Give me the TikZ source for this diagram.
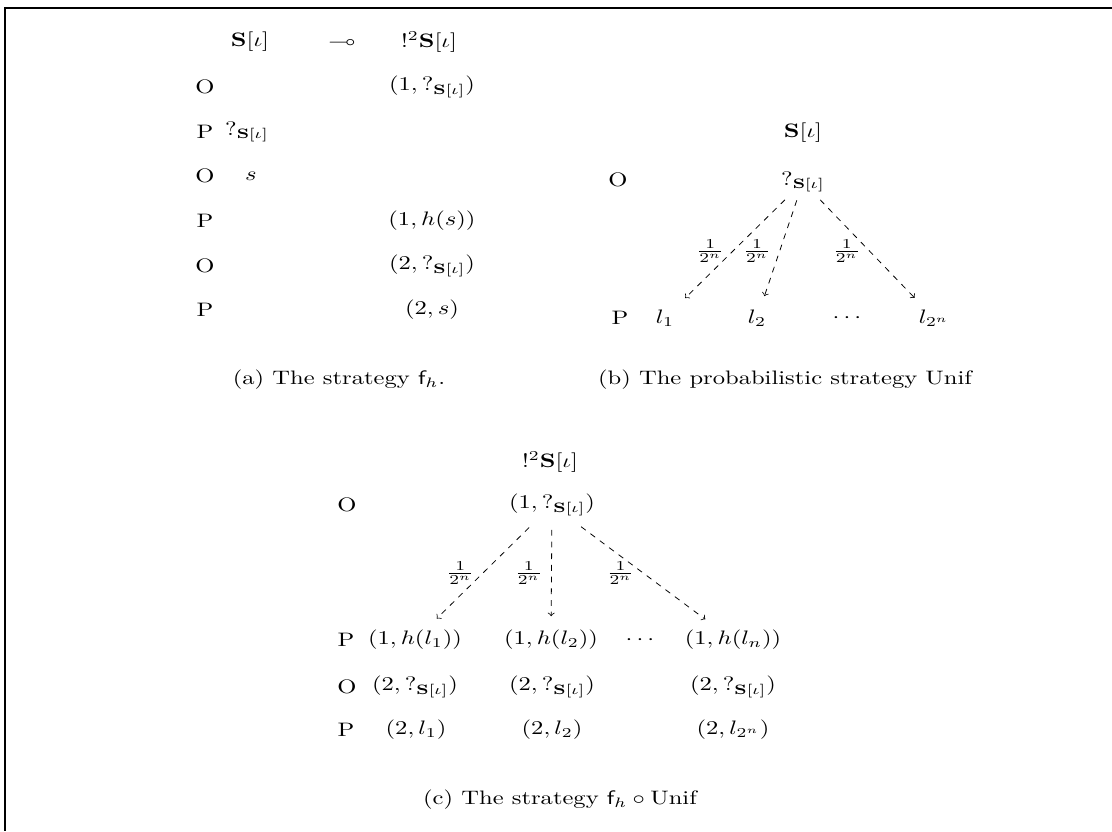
\documentclass[tikz,border=0pt]{standalone}
\usepackage{amsmath,amssymb}
\usepackage{tikz}
\usetikzlibrary{positioning}
\newcommand{\Sig}{\mathbf{S}[\iota]}
\newcommand{\qS}{?_{\mathbf{S}[\iota]}}

\begin{document}
\begin{tikzpicture}[
  x=0.5128pt, y=-0.5128pt,
  every node/.style={xscale=1.26},
  mv/.style={inner sep=3pt},
  pl/.style={inner sep=3pt},
  capt/.style={inner sep=2pt},
  prob/.style={left=3pt, inner sep=1pt},
  arr/.style={->, dashed, shorten >=4pt, shorten <=1pt}
]
\useasboundingbox (0,0) rectangle (1112,831);
\draw[line width=0.8pt] (1112,8) -- (5,8) -- (5,831);

% (a) the strategy f_h
\node[mv] (aL) at (250,42) {$\Sig$};
\node[mv] (aimp) at (342,42) {$\multimap$};
\node[mv] (aR) at (429,42) {$!^2\Sig$};
\node[pl] (ap1) at (205,87) {O};
\node[pl] (ap2) at (205,132) {P};
\node[pl] (ap3) at (205,176) {O};
\node[pl] (ap4) at (205,221) {P};
\node[pl] (ap5) at (205,266) {O};
\node[pl] (ap6) at (205,310) {P};
\node[mv] (am1) at (432,87) {$(1,\qS)$};
\node[mv] (am2) at (247,132) {$\qS$};
\node[mv] (am3) at (251,176) {$s$};
\node[mv] (am4) at (432,221) {$(1,h(s))$};
\node[mv] (am5) at (432,266) {$(2,\qS)$};
\node[mv] (am6) at (432,310) {$(2,s)$};
\node[capt] (capa) at (339,380) {(a) The strategy $\mathsf{f}_h$.};

% (b) the probabilistic strategy Unif
\node[mv] (bS) at (803,133) {$\Sig$};
\node[pl] (bO) at (618,180) {O};
\node[mv] (bq) at (803,182) {$\qS$};
\node[pl] (bP) at (620,318) {P};
\node[mv] (bl1) at (665,318) {$l_1$};
\node[mv] (bl2) at (757,318) {$l_2$};
\node[mv] (bdots) at (849,318) {$\cdots$};
\node[mv] (bln) at (934,318) {$l_{2^n}$};
\draw[arr] (bq) -- node[prob] {$\frac{1}{2^n}$} (bl1);
\draw[arr] (bq) -- node[prob] {$\frac{1}{2^n}$} (bl2);
\draw[arr] (bq) -- node[prob] {$\frac{1}{2^n}$} (bln);
\node[capt] (capb) at (785,380) {(b) The probabilistic strategy Unif};

% (c) the composite f_h o Unif
\node[mv] (cS) at (550,462) {$!^2\Sig$};
\node[pl] (cO) at (347,505) {O};
\node[mv] (cq) at (552,505) {$(1,\qS)$};
\node[pl] (cp1) at (346,640) {P};
\node[pl] (cp2) at (347,687) {O};
\node[pl] (cp3) at (346,730) {P};
\node[mv] (ch1) at (415,640) {$(1,h(l_1))$};
\node[mv] (ch2) at (551,640) {$(1,h(l_2))$};
\node[mv] (cdots) at (642,640) {$\cdots$};
\node[mv] (chn) at (733,640) {$(1,h(l_n))$};
\node[mv] (cq1) at (415,687) {$(2,\qS)$};
\node[mv] (cq2) at (552,687) {$(2,\qS)$};
\node[mv] (cqn) at (733,687) {$(2,\qS)$};
\node[mv] (cl1) at (416,730) {$(2,l_1)$};
\node[mv] (cl2) at (552,730) {$(2,l_2)$};
\node[mv] (cln) at (733,730) {$(2,l_{2^n})$};
\draw[arr, shorten <=4pt] (cq) -- node[prob] {$\frac{1}{2^n}$} (ch1);
\draw[arr, shorten <=4pt] (cq) -- node[prob] {$\frac{1}{2^n}$} (ch2);
\draw[arr, shorten <=4pt] (cq) -- node[prob] {$\frac{1}{2^n}$} (chn);
\node[capt] (capc) at (560,800) {(c) The strategy $\mathsf{f}_h \circ \text{Unif}$};
\end{tikzpicture}
\end{document}
